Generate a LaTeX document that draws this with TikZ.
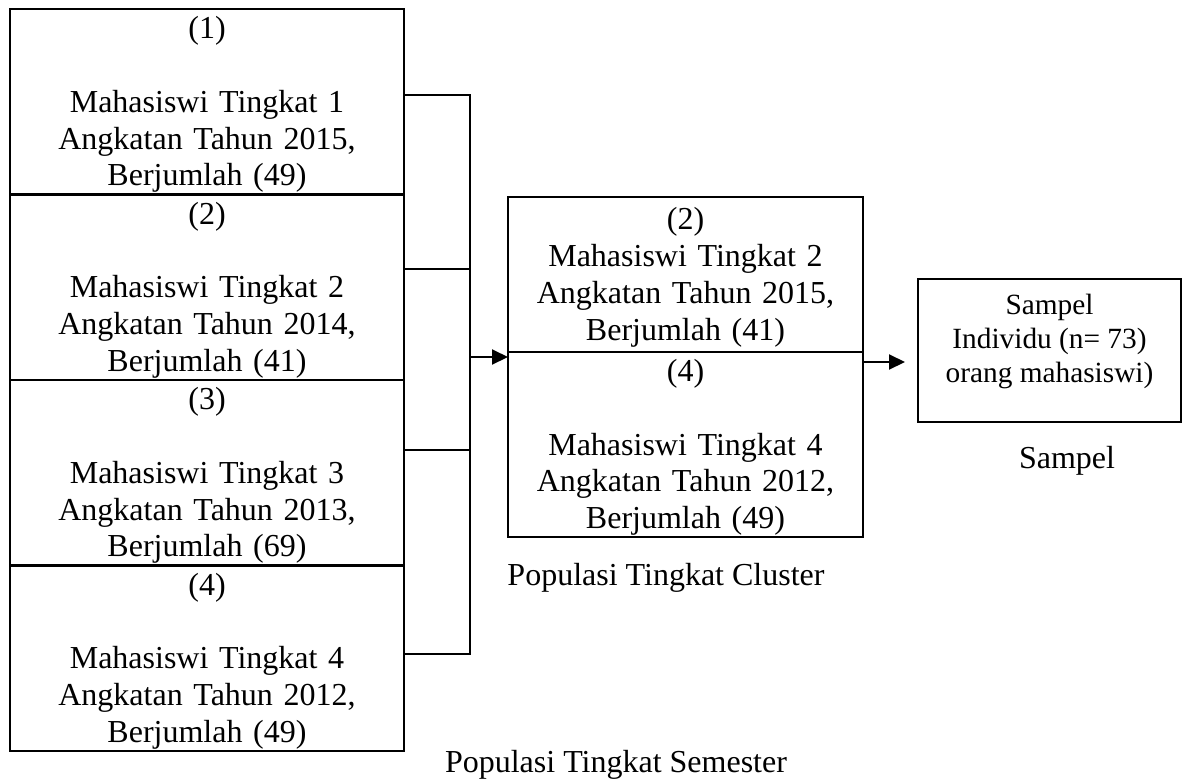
\documentclass[tikz,border=0pt]{standalone}
\usepackage{fontspec}
\setmainfont{Liberation Serif}
\usetikzlibrary{positioning,arrows.meta}

\tikzset{
  box/.style={draw,line width=2.5pt,outer sep=0pt,inner sep=0pt,align=center,
    font=\fontsize{32}{36.8}\selectfont},
  semesterbox/.style={box,minimum width=394pt,text width=390pt,minimum height=185.5pt,text height=28pt},
  clusterbox/.style={box,minimum width=355pt,text width=350pt,text height=28pt},
  wire/.style={line width=2.5pt},
  arr/.style={line width=2pt,-{Triangle[length=16pt,width=15pt]}},
  caption/.style={anchor=base,inner sep=0pt,font=\fontsize{32}{36.8}\selectfont},
}

\begin{document}
\begin{tikzpicture}[x=1pt,y=-1pt]
\useasboundingbox (0,0) rectangle (1185,782);
%%
\node (sem1) [semesterbox,anchor=north west] at (10,9)
  {(1)\\[\baselineskip]Mahasiswi Tingkat 1\\Angkatan Tahun 2015,\\Berjumlah (49)};
\node (sem2) [semesterbox,below=0pt of sem1]
  {(2)\\[\baselineskip]Mahasiswi Tingkat 2\\Angkatan Tahun 2014,\\Berjumlah (41)};
\node (sem3) [semesterbox,below=0pt of sem2]
  {(3)\\[\baselineskip]Mahasiswi Tingkat 3\\Angkatan Tahun 2013,\\Berjumlah (69)};
\node (sem4) [semesterbox,below=0pt of sem3]
  {(4)\\[\baselineskip]Mahasiswi Tingkat 4\\Angkatan Tahun 2012,\\Berjumlah (49)};
%
\node (cl2) [clusterbox,minimum height=155pt,anchor=north west] at (508,197)
  {(2)\\Mahasiswi Tingkat 2\\Angkatan Tahun 2015,\\Berjumlah (41)};
\node (cl4) [clusterbox,minimum height=185pt,below=0pt of cl2]
  {(4)\\[\baselineskip]Mahasiswi Tingkat 4\\Angkatan Tahun 2012,\\Berjumlah (49)};
%
\node (sampel) [box,line width=2pt,minimum width=263pt,minimum height=143pt,
  text depth=24pt,font=\fontsize{29.33}{33.7}\selectfont,anchor=north west] at (918,279)
  {Sampel\\Individu (n= 73)\\orang mahasiswi)};
%
\node (labcl) [caption] at (666,585) {Populasi Tingkat Cluster};
\node (labsem) [caption] at (616,772) {Populasi Tingkat Semester};
\node (labsam) [caption] at (1067,468) {Sampel};
%
\coordinate (j1) at (470,95);
\coordinate (j2) at (470,269);
\coordinate (j3) at (470,450);
\coordinate (j4) at (470,654);
\coordinate (jm) at (470,357);
\coordinate (ja) at (905,362);
\draw [wire] (sem1.east |- j1) -- (j1) -- (j4) -- (sem4.east |- j4);
\draw [wire] (sem2.east |- j2) -- (j2);
\draw [wire] (sem3.east |- j3) -- (j3);
\draw [arr] (jm) -- (cl2.west |- jm);
\draw [arr] (cl4.east |- ja) -- (ja);
%
\end{tikzpicture}
\end{document}
